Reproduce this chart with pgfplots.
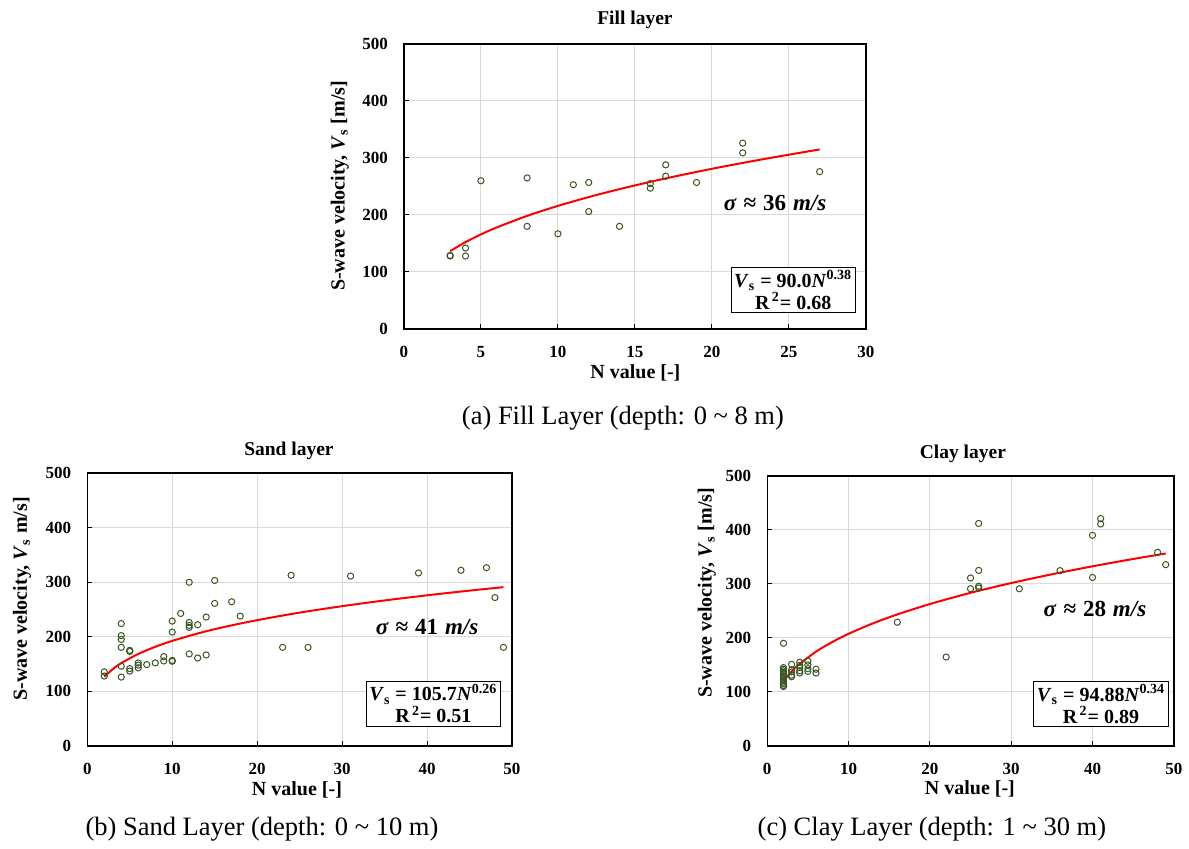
\documentclass[border=0pt]{standalone}
\usepackage{fontspec}
\setmainfont{Liberation Serif}
\usepackage{pgfplots}
\pgfplotsset{compat=1.18}
\definecolor{mk}{RGB}{56,87,35}
\definecolor{gridc}{RGB}{217,217,217}
\pgfplotsset{
 vsstyle/.style={
  scale only axis, anchor=south west,
  ymin=0, ymax=500, ytick={0,100,...,500},
  grid=major, major grid style={gridc, line width=0.5pt},
  axis line style={black, line width=0.7pt},
  tick align=inside, xtick pos=bottom, ytick pos=left,
  major tick length=2.5pt, tick style={black, line width=0.5pt},
  ticklabel style={font=\fontsize{8.5}{10}\selectfont\bfseries},
  /pgf/number format/assume math mode=true,
  xticklabel style={yshift=-5pt},
  yticklabel style={xshift=-4.5pt},
 },
 pts/.style={only marks, mark=o, mark size=1.55pt, mark options={mk, line width=0.5pt}},
 fit/.style={red, line width=1pt, no marks, smooth},
}
\tikzset{
 eqbox/.style={draw=black, line width=0.5pt, fill=white, anchor=south east, align=center, inner sep=1.5pt, font=\fontsize{10}{11}\selectfont\bfseries},
 sig/.style={font=\fontsize{11.5}{12}\selectfont\bfseries},
}
\newcommand{\sigtext}[1]{\textit{σ}\hspace{0.3em}≈\hspace{0.3em}#1\hspace{0.3em}\textit{m/s}}
\begin{document}
\begin{tikzpicture}
\path (0,0) rectangle (594.5pt,424.5pt);
% ---------------- Fill layer
\begin{axis}[vsstyle, at={(202pt,260pt)}, width=231pt, height=142.5pt,
  xmin=0, xmax=30, xtick={0,5,...,30}]
\addplot[pts] coordinates {(3,128) (3,129) (4,142) (4,128) (5,260) (8,265) (8,180) (10,167) (11,253) (12,257) (12,206) (14,180) (16,255) (16,247) (17,288) (17,268) (19,257) (22,326) (22,309) (27,276)};
\addplot[fit] coordinates {(3,136.6) (4,152.4) (5,165.9) (6,177.8) (8,198.4) (10,215.9) (12,231.4) (14,245.3) (16,258.1) (18,269.9) (20,281.0) (22,291.3) (24,301.1) (27,315.0)};
\node[sig] at (axis cs:24.1,221) {\sigtext{36}};
\node[eqbox] at (rel axis cs:0.978,0.056) {\textit{V}\textsubscript{s} = 90.0\textit{N}\textsuperscript{0.38}\\R\textsuperscript{\,2}= 0.68};
\end{axis}
\node[font=\fontsize{9.75}{11}\selectfont\bfseries] at (317.5pt,414.5pt) {Fill layer};
\node[font=\fontsize{10}{12}\selectfont\bfseries, rotate=90] at (170pt,331.5pt) {S-wave velocity, \textit{V}\textsubscript{s} [m/s]};
\node[font=\fontsize{10}{12}\selectfont\bfseries] at (317.75pt,238pt) {N value [-]};
\node[font=\fontsize{13.25}{15}\selectfont] at (311.5pt,215.5pt) {(a) Fill Layer (depth: 0 \char`~{} 8 m)};
% ---------------- Sand layer
\begin{axis}[vsstyle, at={(43.65pt,51.5pt)}, width=212.35pt, height=136.5pt,
  xmin=0, xmax=50, xtick={0,10,...,50}]
\addplot[pts] coordinates {(2,135.6) (2,128) (4,224) (4,202) (4,195) (4,180.5) (4,146) (4,126) (5,175) (5,173) (5,141.6) (5,137) (6,152) (6,148) (6,143) (7,149) (8,152) (9,163.5) (9,155.6) (10,228.6) (10,208.5) (10,156.5) (10,155) (11,242.6) (12,299.7) (12,226) (12,220.7) (12,217) (12,168.4) (13,222) (13,161) (14,236) (14,166.6) (15,303) (15,261) (17,264) (18,237.7) (23,180.5) (24,312.5) (26,180.5) (31,311) (39,316.7) (44,321.6) (47,326.4) (48,271.7) (49,180.5)};
\addplot[fit] coordinates {(2,126.6) (3,140.6) (4,151.6) (6,168.4) (8,181.5) (10,192.3) (13,205.9) (16,217.4) (20,230.3) (25,244.1) (30,255.9) (35,266.4) (40,275.8) (45,284.4) (49,290.8)};
\node[sig] at (axis cs:40,217) {\sigtext{41}};
\node[eqbox] at (rel axis cs:0.974,0.07) {\textit{V}\textsubscript{s} = 105.7\textit{N}\textsuperscript{0.26}\\R\textsuperscript{\,2}= 0.51};
\end{axis}
\node[font=\fontsize{9.75}{11}\selectfont\bfseries] at (144.5pt,199pt) {Sand layer};
\node[font=\fontsize{10}{12}\selectfont\bfseries, rotate=90] at (11pt,125pt) {S-wave velocity, \textit{V}\textsubscript{s} m/s]};
\node[font=\fontsize{10}{12}\selectfont\bfseries] at (148.5pt,29.5pt) {N value [-]};
\node[font=\fontsize{13.25}{15}\selectfont] at (131pt,10pt) {(b) Sand Layer (depth: 0 \char`~{} 10 m)};
% ---------------- Clay layer
\begin{axis}[vsstyle, at={(383.65pt,51.5pt)}, width=203.35pt, height=135pt,
  xmin=0, xmax=50, xtick={0,10,...,50}]
\addplot[pts] coordinates {(2,190) (2,145) (2,142) (2,139) (2,136) (2,133) (2,130) (2,127) (2,124) (2,121) (2,118) (2,115) (2,112) (2,110) (3,151) (3,141) (3,137) (3,131) (3,128) (4,155) (4,149) (4,145) (4,139) (4,135) (5,157) (5,150) (5,143) (5,138) (6,142) (6,135) (16,229) (22,164.6) (25,311) (25,291) (26,412) (26,325) (26,295.7) (26,292.6) (31,291) (36,324.6) (40,390) (40,312) (41,421) (41,411) (48,358.5) (49,335.7)};
\addplot[fit] coordinates {(2,120.1) (3,137.8) (4,152.0) (6,174.5) (8,192.4) (10,207.6) (13,226.9) (16,243.5) (20,262.7) (25,283.5) (30,301.6) (35,317.8) (40,332.6) (45,346.2) (49,356.3)};
\node[sig] at (axis cs:40.3,254) {\sigtext{28}};
\node[eqbox] at (rel axis cs:0.987,0.07) {\textit{V}\textsubscript{s} = 94.88\textit{N}\textsuperscript{0.34}\\R\textsuperscript{\,2}= 0.89};
\end{axis}
\node[font=\fontsize{9.75}{11}\selectfont\bfseries] at (481.5pt,197.5pt) {Clay layer};
\node[font=\fontsize{10}{12}\selectfont\bfseries, rotate=90] at (353.5pt,128pt) {S-wave velocity, \textit{V}\textsubscript{s} [m/s]};
\node[font=\fontsize{10}{12}\selectfont\bfseries] at (485pt,30pt) {N value [-]};
\node[font=\fontsize{13.25}{15}\selectfont] at (466pt,10pt) {(c) Clay Layer (depth: 1 \char`~{} 30 m)};
\end{tikzpicture}
\end{document}
